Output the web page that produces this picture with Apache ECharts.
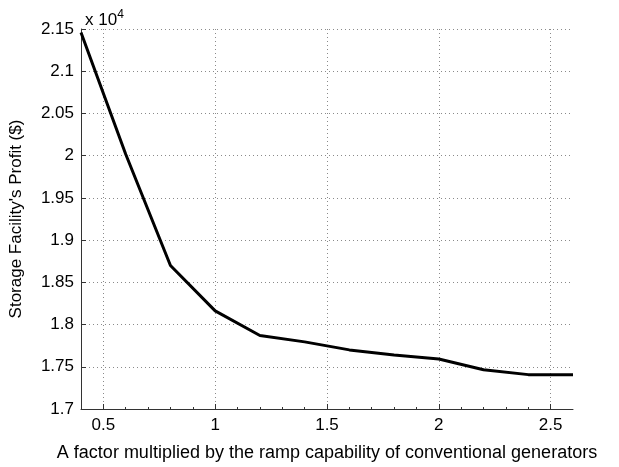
<!DOCTYPE html>
<html>
<head>
<meta charset="utf-8">
<script src="https://cdn.jsdelivr.net/npm/echarts@6/dist/echarts.min.js"></script>
<style>html,body{margin:0;padding:0;background:#fff}#c{width:619px;height:467px}</style>
</head>
<body>
<div id="c"></div>
<script>
var factors = [0.4, 0.6, 0.8, 1.0, 1.2, 1.4, 1.6, 1.8, 2.0, 2.2, 2.4, 2.6];
var profits = [21458, 20017, 18700, 18162, 17870, 17795, 17700, 17640, 17593, 17465, 17407, 17407];
var xTicks = [0.5, 1, 1.5, 2, 2.5];
var yTicks = [1.7, 1.75, 1.8, 1.85, 1.9, 1.95, 2, 2.05, 2.1, 2.15];
var xTitle = 'A factor multiplied by the ramp capability of conventional generators';
var yTitle = "Storage Facility's Profit ($)";
var scaleText = 'x 10';

var chart = echarts.init(document.getElementById('c'), null, {renderer: 'canvas'});
var font = 'Liberation Sans, Arial, Helvetica, sans-serif';
var gridLine = {show: true, lineStyle: {color: '#8a8a8a', type: [1, 3], width: 1}};
chart.setOption({
  animation: false,
  backgroundColor: '#fff',
  grid: {left: 81, right: 46, top: 29, bottom: 50, containLabel: false},
  title: {
    text: scaleText + '{sup|4}',
    left: 80, top: 4,
    textStyle: {fontFamily: font, fontSize: 17, fontWeight: 'normal', color: '#000',
      rich: {sup: {fontSize: 12, verticalAlign: 'top', padding: [0, 0, 10, 0], fontFamily: font, color: '#000'}}}
  },
  xAxis: {
    type: 'value', min: 0.4, max: 2.6,
    customValues: xTicks,
    axisLine: {show: true, onZero: false, lineStyle: {color: '#333', width: 1}},
    axisTick: {show: true, inside: true, length: 5, lineStyle: {color: '#333'}, customValues: xTicks},
    minorTick: {show: true, splitNumber: 5, length: 2, lineStyle: {color: '#333'}},
    axisLabel: {customValues: xTicks, fontFamily: font, fontSize: 17, color: '#000', margin: 8,
      formatter: function (v) { return String(v); }},
    splitLine: gridLine,
    name: xTitle, nameLocation: 'middle', nameGap: 35,
    nameTextStyle: {fontFamily: font, fontSize: 18, color: '#000'}
  },
  yAxis: {
    type: 'value', min: 17000, max: 21500, interval: 500,
    axisLine: {show: true, onZero: false, lineStyle: {color: '#333', width: 1}},
    axisTick: {show: true, inside: true, length: 5, lineStyle: {color: '#333'}},
    axisLabel: {fontFamily: font, fontSize: 17, color: '#000', margin: 7,
      formatter: function (v) { return String(Math.round(v / 10) / 1000); }},
    splitLine: gridLine,
    name: yTitle, nameLocation: 'middle', nameGap: 56,
    nameTextStyle: {fontFamily: font, fontSize: 17, color: '#000'}
  },
  series: [{
    type: 'line',
    data: factors.map(function (f, i) { return [f, profits[i]]; }),
    showSymbol: false,
    lineStyle: {color: '#000', width: 3},
    itemStyle: {color: '#000'}
  }]
});
</script>
</body>
</html>
